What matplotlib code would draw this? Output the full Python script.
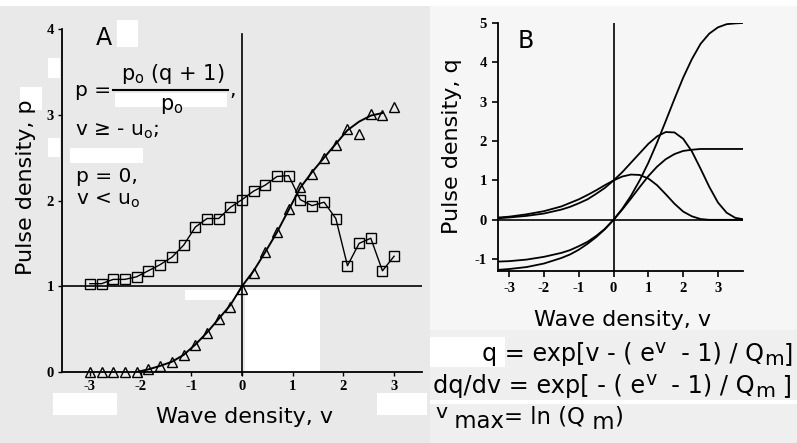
import matplotlib
matplotlib.use("Agg")
import matplotlib.pyplot as plt
from matplotlib.patches import Rectangle

# ---------------- data ----------------
# Panel A
v_a = [-3.00, -2.77, -2.54, -2.31, -2.08, -1.85, -1.62, -1.38, -1.15, -0.92, -0.69,
       -0.46, -0.23, 0.00, 0.23, 0.46, 0.69, 0.92, 1.15, 1.38, 1.62, 1.85, 2.08,
       2.31, 2.54, 2.77, 3.00]
squares = [1.03, 1.03, 1.08, 1.08, 1.11, 1.18, 1.25, 1.34, 1.48, 1.69, 1.79,
           1.79, 1.92, 2.01, 2.11, 2.18, 2.28, 2.29, 2.01, 1.94, 1.98, 1.79, 1.24,
           1.50, 1.56, 1.18, 1.35]
triangles = [0.00, 0.00, 0.00, 0.00, 0.00, 0.03, 0.07, 0.12, 0.20, 0.32, 0.46,
             0.62, 0.76, 0.97, 1.16, 1.40, 1.63, 1.90, 2.16, 2.31, 2.50, 2.65, 2.83,
             2.77, 3.01, 3.00, 3.09]
tri_fit_v = [-2.08, -1.85, -1.62, -1.38, -1.15, -0.92, -0.69, -0.46, -0.23, 0.00,
             0.23, 0.46, 0.69, 0.92, 1.15, 1.38, 1.62, 1.85, 2.08, 2.31, 2.54, 2.77]
tri_fit = [0.00, 0.03, 0.07, 0.12, 0.20, 0.32, 0.46, 0.62, 0.78, 1.00,
           1.18, 1.40, 1.63, 1.89, 2.15, 2.33, 2.50, 2.66, 2.82, 2.92, 2.99, 3.02]
xticks_a = [-3, -2, -1, 0, 1, 2, 3]
yticks_a = [0, 1, 2, 3, 4]

# Panel B
v_b = [-3.3, -3.0, -2.5, -2.0, -1.5, -1.25, -1.0, -0.75, -0.5, -0.25, 0.0, 0.25,
       0.5, 0.75, 1.0, 1.25, 1.5, 1.75, 2.0, 2.25, 2.5, 2.75, 3.0, 3.25, 3.5, 3.7]
bell_big = [0.04, 0.06, 0.10, 0.16, 0.26, 0.33, 0.42, 0.52, 0.66, 0.81, 1.00, 1.21,
            1.45, 1.69, 1.93, 2.12, 2.23, 2.22, 2.06, 1.74, 1.30, 0.84, 0.44, 0.18, 0.05, 0.02]
bell_small = [0.06, 0.08, 0.14, 0.22, 0.34, 0.43, 0.52, 0.63, 0.75, 0.88, 1.00, 1.10,
              1.15, 1.14, 1.05, 0.88, 0.65, 0.41, 0.21, 0.09, 0.02, 0.00, 0.00, 0.00, 0.00, 0.00]
sig_big = [-1.06, -1.05, -1.01, -0.94, -0.84, -0.77, -0.67, -0.56, -0.41, -0.23, 0.00, 0.28,
           0.61, 1.00, 1.45, 1.96, 2.51, 3.07, 3.61, 4.08, 4.47, 4.73, 4.89, 4.97, 4.99, 5.00]
sig_small = [-1.27, -1.25, -1.20, -1.11, -0.97, -0.88, -0.76, -0.61, -0.44, -0.24, 0.00, 0.26,
             0.54, 0.83, 1.11, 1.35, 1.54, 1.67, 1.75, 1.78, 1.80, 1.80, 1.80, 1.80, 1.80, 1.80]
xticks_b = [-3, -2, -1, 0, 1, 2, 3]
yticks_b = [-1, 0, 1, 2, 3, 4, 5]

# ---------------- figure ----------------
W, H = 797, 443
fig = plt.figure(figsize=(W / 100, H / 100), dpi=100)
fig.patch.set_facecolor('#f6f6f6')
renderer = fig.canvas.get_renderer()
sans = 'DejaVu Sans'


def px_rect(x0, y0, x1, y1, color):
    fig.patches.append(Rectangle((x0 / W, 1 - y1 / H), (x1 - x0) / W, (y1 - y0) / H,
                                 transform=fig.transFigure, facecolor=color,
                                 edgecolor='none', zorder=-10))


def text_width(s, size):
    t = fig.text(0, 0, '|' + s + '|', fontsize=size, family=sans)
    w1 = t.get_window_extent(renderer).width
    t.set_text('||')
    w2 = t.get_window_extent(renderer).width
    t.remove()
    return w1 - w2


def draw_seq(x0, x1, base, pieces, size):
    """pieces: (text, scale, dy_px). Scales font so the run spans x0..x1 px."""
    total = sum(text_width(s, size * sc) for s, sc, _ in pieces)
    size = size * (x1 - x0) / total
    x = x0
    for s, sc, dy in pieces:
        fig.text(x / W, 1 - (base - dy) / H, s, fontsize=size * sc, family=sans,
                 ha='left', va='baseline')
        x += text_width(s, size * sc)


# scan background
px_rect(0, 0, 430, 443, '#e9e9e9')
px_rect(430, 330, 797, 443, '#efefef')
for r in [(0, 0, 797, 6), (117, 20, 138, 47), (48, 58, 60, 78), (20, 87, 42, 110),
          (70, 148, 143, 163), (48, 138, 60, 157), (245, 290, 320, 372),
          (185, 290, 240, 300), (53, 393, 117, 415), (115, 93, 227, 107),
          (377, 393, 427, 415), (430, 337, 505, 367), (430, 400, 797, 404)]:
    px_rect(*r, 'white')

serif = {'family': 'Liberation Serif', 'weight': 'bold', 'size': 10.5}

# ---------- Panel A ----------
axA = fig.add_axes([62 / W, 1 - 372 / H, 360 / W, 343 / H])
axA.patch.set_alpha(0)
axA.set_xlim(-3.55, 3.55)
axA.set_ylim(0, 4)
for s in ['top', 'right']:
    axA.spines[s].set_visible(False)
for s in ['left', 'bottom']:
    axA.spines[s].set_linewidth(1.3)
axA.set_xticks(xticks_a)
axA.set_yticks(yticks_a)
axA.set_xticklabels([str(t) for t in xticks_a], fontdict=serif)
axA.set_yticklabels([str(t) for t in yticks_a], fontdict=serif)
axA.tick_params(direction='out', length=3, width=1, pad=3)
axA.axhline(1, color='black', lw=1.2)
axA.axvline(0, color='black', lw=1.2, ymin=-0.01, ymax=0.985, clip_on=False)

axA.plot(v_a, squares, color='black', lw=1.0, zorder=2)
axA.plot(v_a, squares, ls='none', marker='s', ms=7, mfc='none', mec='black', mew=1.0,
         clip_on=False, zorder=3)
axA.plot(tri_fit_v, tri_fit, color='black', lw=1.4, zorder=2)
axA.plot(v_a, triangles, ls='none', marker='^', ms=6.5, mfc='none', mec='black', mew=1.0,
         clip_on=False, zorder=3)

fig.text(96 / W, 1 - 38 / H, 'A', fontsize=17, family=sans, ha='left', va='center')
fig.text(75 / W, 1 - 90 / H, 'p =', fontsize=14.5, family=sans, ha='left', va='center')
fig.text(173 / W, 1 - 74 / H, r'p$_\mathrm{o}$ (q + 1)', fontsize=15, family=sans,
         ha='center', va='center')
fig.lines.append(plt.Line2D([113 / W, 228 / W], [1 - 90 / H, 1 - 90 / H],
                            transform=fig.transFigure, color='black', lw=1.5))
fig.text(229 / W, 1 - 91 / H, ',', fontsize=14.5, family=sans, ha='left', va='center')
fig.text(172 / W, 1 - 106 / H, r'p$_\mathrm{o}$', fontsize=15, family=sans,
         ha='center', va='center')
fig.text(75 / W, 1 - 131 / H, r'v ≥ - u$_\mathrm{o}$;', fontsize=14.5, family=sans,
         ha='left', va='center')
fig.text(76 / W, 1 - 177 / H, 'p = 0,', fontsize=14.5, family=sans, ha='left', va='center')
fig.text(76 / W, 1 - 200 / H, r'v < u$_\mathrm{o}$', fontsize=14.5, family=sans,
         ha='left', va='center')

fig.text(26 / W, 1 - 187 / H, 'Pulse density, p', fontsize=16, family=sans,
         rotation=90, ha='center', va='center')
fig.text(245 / W, 1 - 417 / H, 'Wave density, v', fontsize=16, family=sans,
         ha='center', va='center')

# ---------- Panel B ----------
axB = fig.add_axes([498 / W, 1 - 271 / H, 245 / W, 248 / H])
axB.patch.set_alpha(0)
axB.set_xlim(-3.32, 3.72)
axB.set_ylim(-1.3, 5)
for s in ['top', 'right']:
    axB.spines[s].set_visible(False)
for s in ['left', 'bottom']:
    axB.spines[s].set_linewidth(1.3)
axB.set_xticks(xticks_b)
axB.set_yticks(yticks_b)
axB.set_xticklabels([str(t) for t in xticks_b], fontdict=serif)
axB.set_yticklabels([str(t) for t in yticks_b], fontdict=serif)
axB.tick_params(direction='out', length=4, width=1.2, pad=4)
axB.axhline(0, color='black', lw=1.2)
axB.axvline(0, color='black', lw=1.2)
for series in [bell_big, bell_small, sig_big, sig_small]:
    axB.plot(v_b, series, color='black', lw=1.3)

fig.text(526 / W, 1 - 41 / H, 'B', fontsize=17, family=sans, ha='center', va='center')
fig.text(452 / W, 1 - 146 / H, 'Pulse density, q', fontsize=16, family=sans,
         rotation=90, ha='center', va='center')
fig.text(622 / W, 1 - 320 / H, 'Wave density, v', fontsize=16, family=sans,
         ha='center', va='center')

draw_seq(482, 793, 361, [('q = exp[v - ( e', 1, 0), ('v', 0.8, 8),
                         ('  - 1) / Q', 1, 0), ('m', 0.85, -4), (']', 1, 0)], 15)
draw_seq(433, 792, 393, [('dq/dv = exp[ - ( e', 1, 0), ('v', 0.8, 8),
                         ('  - 1) / Q', 1, 0), ('m', 0.85, -4), (' ]', 1, 0)], 15)
draw_seq(435, 623, 423, [('v', 0.9, 5), (' max', 1, -5), ('= ln (Q', 1, 0),
                         (' m', 1, -6), (')', 1, 0)], 15)

fig.savefig('out.png', dpi=100, facecolor=fig.get_facecolor())
